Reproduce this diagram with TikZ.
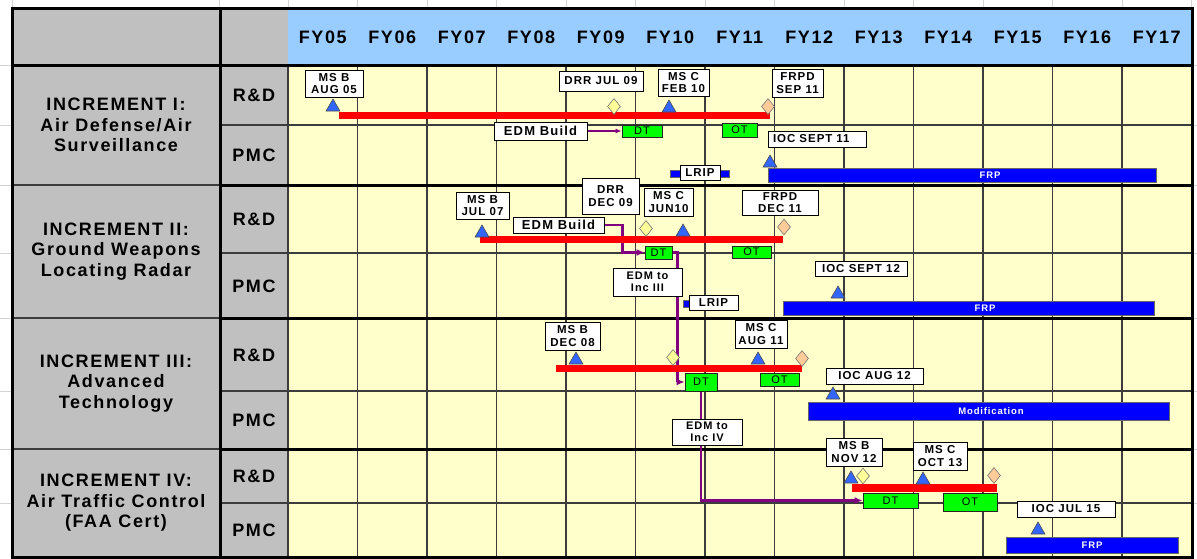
\documentclass[tikz,border=0pt]{standalone}
\usepackage{fontspec}
\setmainfont{Liberation Sans}
\newfontfamily\chartfont{Liberation Sans}[LetterSpace=9]
\usepackage{tikz}
\usetikzlibrary{shapes.geometric, arrows.meta, shadows}
\definecolor{cellgray}  {HTML}{C0C0C0}
\definecolor{yearblue}  {HTML}{99CCFF}
\definecolor{planyellow}{HTML}{FFFFCC}
\definecolor{sheetgray} {HTML}{D4D4D4}
\definecolor{gridgray}  {HTML}{3C3C3C}
\definecolor{devred}    {HTML}{FF0000}
\definecolor{prodblue}  {HTML}{0000FF}
\definecolor{testgreen} {HTML}{00FF00}
\definecolor{msblue}    {HTML}{3366FF}
\definecolor{drryellow} {HTML}{FFFF99}
\definecolor{frpdpeach} {HTML}{FFCC99}
\definecolor{edmpurple} {HTML}{800080}
\pgfdeclarelayer{grid}
\pgfdeclarelayer{links}
\pgfsetlayers{grid,links,main}
\tikzset{
  sheetline/.style={draw=sheetgray, line width=1pt},
  gridline/.style={draw=gridgray, line width=1.4pt},
  frameline/.style={draw=black, line width=3pt},
  yeartext/.style={inner sep=0pt, font=\chartfont\bfseries\fontsize{18}{20.5}\selectfont},
  inctext/.style={inner sep=0pt, align=center, font=\chartfont\bfseries\fontsize{18}{20.5}\selectfont},
  rowtext/.style={inner sep=0pt, font=\chartfont\bfseries\fontsize{18}{20.5}\selectfont},
  tag/.style={rectangle, draw=black, line width=0.8pt, fill=white, align=center,
    inner sep=0pt, font=\chartfont\bfseries\fontsize{11.5}{12.8}\selectfont,
    drop shadow={shadow xshift=1.2pt, shadow yshift=-1.2pt, fill=black!45, opacity=1}},
  edmtag/.style={tag, font=\chartfont\bfseries\fontsize{13}{14}\selectfont},
  handtag/.style={tag, font=\chartfont\bfseries\fontsize{11}{12.4}\selectfont},
  testbox/.style={rectangle, draw=black!85, line width=0.8pt, fill=testgreen,
    inner sep=0pt, font=\chartfont\fontsize{11}{12}\selectfont},
  devbar/.style={rectangle, fill=devred, inner sep=0pt, minimum height=7},
  prodbar/.style={rectangle, fill=prodblue, draw=black!60, line width=0.6pt, inner sep=0pt},
  bartext/.style={inner sep=0pt, text=white, font=\chartfont\bfseries\fontsize{9.5}{10}\selectfont},
  msmark/.style={regular polygon, regular polygon sides=3, minimum size=16, inner sep=0pt,
    fill=msblue, draw=black!70, line width=0.6pt},
  drrmark/.style={diamond, minimum width=13, minimum height=16, inner sep=0pt,
    fill=drryellow, draw=black!55, line width=0.6pt},
  frpdmark/.style={drrmark, fill=frpdpeach},
  edmarr/.style={-{Latex[length=8pt,width=7pt]}, line width=2.2pt, color=edmpurple}
}

\begin{document}
\begin{tikzpicture}[x=1pt, y=-1pt]
  \useasboundingbox (0,0) rectangle (1197,558);

  %% SHEET AND GRID
  \begin{pgfonlayer}{grid}
    \fill[cellgray]   (12,8)  rectangle (288,557);
    \fill[yearblue]   (288,8) rectangle (1192,65);
    \fill[planyellow] (288,65) rectangle (1192,557);
    \draw[sheetline] (12,0) -- (12,8);
    \draw[sheetline] (219,0) -- (219,8);
    \foreach \i in {0,...,13}
      \draw[sheetline] ({288+69.5*\i},0) -- ++(0,8);
    \foreach \gy in {65,125,185,253,318,391,449,503} {
      \draw[sheetline] (0,\gy) -- (12,\gy);
      \draw[sheetline] (1192,\gy) -- (1197,\gy);
    }
    \foreach \i in {0,...,12}
      \draw[gridline] ({288+69.5*\i},65) -- ({288+69.5*\i},557);
    \foreach \gy in {125,253,391,503}
      \draw[gridline] (220,\gy) -- (1192,\gy);
    \foreach \gy in {185,318,449} {
      \draw[gridline] (12,\gy) -- (220,\gy);
      \draw[frameline] (220,\gy) -- (1192,\gy);
    }
    \draw[frameline] (12,65) -- (1192,65);
    \draw[frameline] (220,8) -- (220,557);
    \draw[frameline] (12,8) rectangle (1192,557);
  \end{pgfonlayer}

  %% HEADER
  \node[yeartext] (fy05) at (322.75,37) {FY05};
  \node[yeartext] (fy06) at (392.25,37) {FY06};
  \node[yeartext] (fy07) at (461.75,37) {FY07};
  \node[yeartext] (fy08) at (531.25,37) {FY08};
  \node[yeartext] (fy09) at (600.75,37) {FY09};
  \node[yeartext] (fy10) at (670.25,37) {FY10};
  \node[yeartext] (fy11) at (739.75,37) {FY11};
  \node[yeartext] (fy12) at (809.25,37) {FY12};
  \node[yeartext] (fy13) at (878.75,37) {FY13};
  \node[yeartext] (fy14) at (948.25,37) {FY14};
  \node[yeartext] (fy15) at (1017.75,37) {FY15};
  \node[yeartext] (fy16) at (1087.25,37) {FY16};
  \node[yeartext] (fy17) at (1156.75,37) {FY17};

  %% ROW LABELS
  \node[inctext] (inc1) at (116,125)   {INCREMENT I:\\Air Defense/Air\\Surveillance};
  \node[inctext] (inc2) at (116,251.5) {INCREMENT II:\\Ground Weapons\\Locating Radar};
  \node[inctext] (inc3) at (116,383.5) {INCREMENT III:\\Advanced\\Technology};
  \node[inctext] (inc4) at (116,503)   {INCREMENT IV:\\Air Traffic Control\\(FAA Cert)};

  \node[rowtext] (rd1)  at (254,95)    {R\&D};
  \node[rowtext] (pmc1) at (254,155)   {PMC};
  \node[rowtext] (rd2)  at (254,219)   {R\&D};
  \node[rowtext] (pmc2) at (254,286)   {PMC};
  \node[rowtext] (rd3)  at (254,355)   {R\&D};
  \node[rowtext] (pmc3) at (254,420)   {PMC};
  \node[rowtext] (rd4)  at (254,476)   {R\&D};
  \node[rowtext] (pmc4) at (254,530)   {PMC};

  %% INCREMENT I
  \node[devbar, minimum width=431] (dev1) at (554.5,115) {};
  \node[prodbar, minimum width=59, minimum height=7] (lripbar1) at (699.5,173.5) {};
  \node[prodbar, minimum width=388, minimum height=14] (frp1) at (962,175) {};
  \node[bartext] (frp1txt) at (990,175) {FRP};
  \node[msmark] (msb1mk) at (333,107) {};
  \node[msmark] (msc1mk) at (669,108) {};
  \node[msmark] (ioc1mk) at (770,163) {};
  \node[drrmark] (drr1mk) at (614,106.5) {};
  \node[frpdmark] (frpd1mk) at (768,106.5) {};
  \node[tag, minimum width=58, minimum height=27] (msb1) at (334,83.5) {MS B\\AUG 05};
  \node[tag, minimum width=84, minimum height=20] (drr1) at (601,81) {DRR JUL 09};
  \node[tag, minimum width=51, minimum height=27] (msc1) at (683.5,82.5) {MS C\\FEB 10};
  \node[tag, minimum width=51, minimum height=28] (frpd1) at (797.5,83) {FRPD\\SEP 11};
  \node[edmtag, minimum width=93, minimum height=18] (edm1) at (540.5,131) {EDM Build};
  \node[tag, text width=88, align=left, inner xsep=5pt, minimum height=16] (ioc1)
    at (817,139) {IOC SEPT 11};
  \node[tag, minimum width=40, minimum height=15] (lrip1) at (700,172.5) {LRIP};
  \node[testbox, minimum width=40, minimum height=12] (dt1) at (642,131) {DT};
  \node[testbox, minimum width=35, minimum height=14] (ot1) at (739.5,130) {OT};

  %% INCREMENT II
  \node[devbar, minimum width=303] (dev2) at (631.5,239.5) {};
  \node[prodbar, minimum width=52, minimum height=7] (lripbar2) at (709,303.5) {};
  \node[prodbar, minimum width=371, minimum height=14] (frp2) at (968.5,308) {};
  \node[bartext] (frp2txt) at (985,308) {FRP};
  \node[msmark] (msb2mk) at (482,233) {};
  \node[msmark] (msc2mk) at (683,232) {};
  \node[msmark] (ioc2mk) at (838,294) {};
  \node[drrmark] (drr2mk) at (646,228.5) {};
  \node[frpdmark] (frpd2mk) at (784,227) {};
  \node[tag, minimum width=53, minimum height=27] (msb2) at (482.5,205.5) {MS B\\JUL 07};
  \node[tag, minimum width=57, minimum height=36] (drr2) at (610.5,196) {DRR\\DEC 09};
  \node[tag, minimum width=49, minimum height=28] (msc2) at (668.5,202) {MS C\\JUN10};
  \node[tag, minimum width=76, minimum height=25] (frpd2) at (780,202.5) {FRPD\\DEC 11};
  \node[edmtag, minimum width=91, minimum height=16] (edm2) at (558.5,225) {EDM Build};
  \node[handtag, minimum width=69, minimum height=28] (toinc3) at (647.5,282) {EDM to\\Inc III};
  \node[tag, minimum width=49, minimum height=15] (lrip2) at (713.5,302.5) {LRIP};
  \node[tag, minimum width=92, minimum height=15] (ioc2) at (861,268.5) {IOC SEPT 12};
  \node[testbox, minimum width=27, minimum height=13] (dt2) at (658.5,252.5) {DT};
  \node[testbox, minimum width=39, minimum height=12] (ot2) at (751.5,252) {OT};

  %% INCREMENT III
  \node[devbar, minimum width=246] (dev3) at (679,368.5) {};
  \node[prodbar, minimum width=361, minimum height=18] (mod3) at (988.5,411) {};
  \node[bartext] (mod3txt) at (991,411) {Modification};
  \node[msmark] (msb3mk) at (576,360) {};
  \node[msmark] (msc3mk) at (758,360) {};
  \node[msmark] (ioc3mk) at (833,395) {};
  \node[drrmark] (drr3mk) at (673,357.5) {};
  \node[frpdmark] (frpd3mk) at (802,358.5) {};
  \node[tag, minimum width=55, minimum height=28] (msb3) at (572.5,336) {MS B\\DEC 08};
  \node[tag, minimum width=52, minimum height=28] (msc3) at (761,334) {MS C\\AUG 11};
  \node[tag, minimum width=97, minimum height=16] (ioc3) at (874.5,376) {IOC AUG 12};
  \node[handtag, minimum width=70, minimum height=26] (toinc4) at (707,432) {EDM to\\Inc IV};
  \node[testbox, minimum width=32, minimum height=18] (dt3) at (701,382) {DT};
  \node[testbox, minimum width=39, minimum height=13] (ot3) at (779.5,379.5) {OT};

  %% INCREMENT IV
  \node[devbar, minimum width=145, minimum height=8] (dev4) at (924.5,488) {};
  \node[prodbar, minimum width=172, minimum height=16] (frp4) at (1092,545) {};
  \node[bartext] (frp4txt) at (1092,545) {FRP};
  \node[msmark] (msb4mk) at (851,479) {};
  \node[msmark] (msc4mk) at (923,480) {};
  \node[msmark] (ioc4mk) at (1038,530) {};
  \node[drrmark] (drr4mk) at (863,476) {};
  \node[frpdmark] (frpd4mk) at (994,475.5) {};
  \node[tag, minimum width=56, minimum height=28] (msb4) at (854,452) {MS B\\NOV 12};
  \node[tag, minimum width=54, minimum height=28] (msc4) at (940,456) {MS C\\OCT 13};
  \node[tag, minimum width=98, minimum height=16] (ioc4) at (1066,509) {IOC JUL 15};
  \node[testbox, minimum width=55, minimum height=15] (dt4) at (890.5,500.5) {DT};
  \node[testbox, minimum width=54, minimum height=18] (ot4) at (970,502) {OT};

  %% EDM HAND-OFFS
  \begin{pgfonlayer}{links}
    \draw[edmarr, line width=1.3pt, -{Latex[length=6pt,width=5pt]}] (edm1.east) -- (dt1.west);
    \draw[edmarr] (edm2.east) -- ++(18,0) |- (dt2.west);
    \draw[edmarr] (dt2.east) -- ++(5,0) |- (dt3.west);
    \draw[edmarr] (dt3.south) |- (dt4.west);
  \end{pgfonlayer}

\end{tikzpicture}
\end{document}
